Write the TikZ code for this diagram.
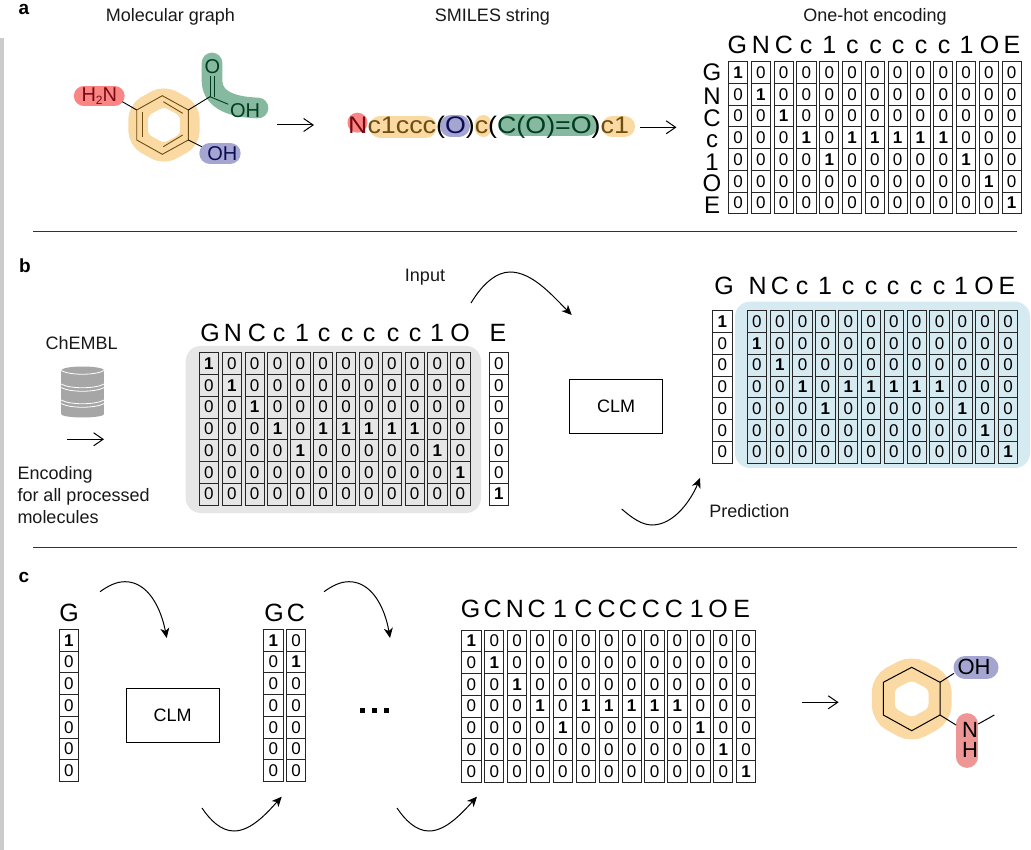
\documentclass[tikz,border=0pt]{standalone}
\usepackage{fontspec}
\setmainfont{Liberation Sans}
\usetikzlibrary{arrows.meta}
\definecolor{ringor}{HTML}{FAD9A2}
\definecolor{blobred}{HTML}{F98585}
\definecolor{blobredb}{HTML}{EE9595}
\definecolor{blobgreen}{HTML}{86B9A0}
\definecolor{blobblue}{HTML}{A5A5D2}
\definecolor{panelgray}{HTML}{E6E6E6}
\definecolor{panelblue}{HTML}{D6EAF2}
\definecolor{txtred}{HTML}{7A0A12}
\definecolor{txtgreen}{HTML}{003C20}
\definecolor{txtblue}{HTML}{0C0C55}
\definecolor{txtbrown}{HTML}{6E4D10}
\definecolor{dbgray}{HTML}{A6A6A6}
\tikzset{
  cellbox/.style={draw=black!85,line width=0.9pt,inner sep=0pt,font=\fontsize{17}{17}\selectfont},
  hdrtext/.style={anchor=base,inner sep=0pt,font=\fontsize{25}{25}\selectfont},
  rowtext/.style={anchor=base,inner sep=0pt,font=\fontsize{24}{24}\selectfont},
  lbltext/.style={inner sep=0pt,font=\fontsize{18}{18}\selectfont,text=black!90},
  moltext/.style={inner sep=0pt,font=\fontsize{20}{20}\selectfont},
  moltextb/.style={inner sep=0pt,font=\fontsize{22}{22}\selectfont},
  paneltag/.style={inner sep=0pt,font=\fontsize{19}{19}\selectfont\bfseries},
  clmbox/.style={draw=black,line width=1pt,minimum width=93.4pt,minimum height=54pt,inner sep=0pt,font=\fontsize{18}{18}\selectfont},
  blob/.style={line cap=round,line join=round},
  bond/.style={line width=0.9pt},
  straightarrow/.style={line width=1pt,-{Straight Barb[length=9.5pt,width=13pt]}},
  curvearrow/.style={line width=1pt,-{Stealth[length=10pt,width=9pt,inset=3pt]}},
  rulesep/.style={line width=0.8pt,draw=black!80}
}
\newcommand{\onehot}[7]{%
  \foreach \oneV [count=\colI from 0] in {#7}{%
    \foreach \rowI in {0,...,6}{%
      \pgfmathsetmacro\cellX{#2+0.5*#4+\colI*#6}%
      \pgfmathsetmacro\cellY{#3+(\rowI+0.5)*#5}%
      \node[cellbox,minimum width=#4pt,minimum height=#5pt] (#1-\colI-\rowI) at (\cellX,\cellY)
        {\ifnum\rowI=\oneV\relax\textbf{1}\else 0\fi};%
    }%
  }%
}
\newcommand{\heads}[3]{%
  \foreach \hX/\hL [count=\hI] in {#3}{%
    \node[hdrtext] (#1-h\hI) at (\hX,#2) {\hL};%
  }%
}
\begin{document}
\begin{tikzpicture}[x=1pt,y=-1pt]
\useasboundingbox (0,0) rectangle (1031,850);
\fill[white] (0,0) rectangle (1031,850);
\fill[black!20] (0,38) rectangle (4,850);

% ---------- panel a
\node[paneltag] (taga) at (24,9) {a};
\node[lbltext] (titlemol) at (170.5,17) {Molecular graph};
\node[lbltext] (titlesmi) at (492.5,17) {SMILES string};
\node[lbltext] (titlehot) at (875,17) {One-hot encoding};

% molecule a: highlights
\draw[ringor,line width=19.5pt,rounded corners=9pt] (163.8,95.7) -- (189.8,110) -- (189.8,140) -- (163.8,154.3) -- (138.2,140) -- (138.2,110) -- cycle;
\draw[blob,blobred,line width=20.3pt] (84,96) -- (114.5,96);
\draw[blob,blobblue,line width=21.3pt] (210,153.3) -- (230,153.3);
\draw[blob,blobgreen,line width=20.7pt] (212,63) -- (212,80) .. controls (212,98) and (228,107) .. (258,108);
% molecule a: skeleton
\coordinate (ra1) at (162.3,95.7);
\coordinate (ra2) at (188.3,110);
\coordinate (ra3) at (188.3,140);
\coordinate (ra4) at (162.3,154.3);
\coordinate (ra5) at (136.7,140);
\coordinate (ra6) at (136.7,110);
\coordinate (caC) at (210,96.7);
\draw[bond,draw=txtbrown] (ra1) -- (ra2) -- (ra3) -- (ra4) -- (ra5) -- (ra6) -- cycle;
\draw[bond,draw=txtbrown] (142.7,111.7) -- (142.7,136.7);
\draw[bond,draw=txtbrown] (163.3,101.7) -- (182.7,113.3);
\draw[bond,draw=txtbrown] (163.3,146.7) -- (182.7,135);
\node[moltext,text=txtred] (nh2) at (99.3,96) {H\raisebox{-3pt}{\fontsize{12}{12}\selectfont 2}N};
\node[moltext,text=txtgreen] (oa) at (212.3,66.7) {O};
\node[moltext,text=txtgreen] (oha) at (245,110.7) {OH};
\node[moltext,text=txtblue] (ohb) at (222.3,154) {OH};
\coordinate (b1) at (122.3,101.7);
\coordinate (b2) at (228.3,104.3);
\coordinate (b3) at (201.7,146.7);
\draw[bond] (ra6) -- (b1);
\draw[bond] (ra2) -- (caC);
\draw[bond,draw=txtgreen] (caC) -- (b2);
\draw[bond] (ra3) -- (b3);
\draw[bond,draw=txtgreen] (210,76) -- (210,97);
\draw[bond,draw=txtgreen] (214,76) -- (214,97);

\coordinate (aa1) at (277,125);
\coordinate (aa2) at (314,125);
\draw[straightarrow] (aa1) -- (aa2);

% SMILES
\fill[blobred] (357.5,122.7) circle (10);
\draw[blob,ringor,line width=22.6pt] (380.6,127) -- (425.4,127);
\draw[blob,blobblue,line width=21.7pt] (450.85,125.85) -- (459.15,125.85);
\fill[ringor] (483.3,126) ellipse (9 and 11);
\draw[blob,blobgreen,line width=22pt] (510,125) -- (587,125);
\draw[blob,ringor,line width=21.6pt] (612.5,126.5) -- (624.2,126.5);
\node[anchor=base west,inner sep=0pt,font=\fontsize{24}{24}\selectfont] (smiles) at (348,133.3)
  {\scalebox{1.117}[1]{\textcolor{txtred}{N}\textcolor{txtbrown}{c1ccc}(\textcolor{txtblue}{O})\textcolor{txtbrown}{c}(\textcolor{txtgreen}{C(O)=O})\textcolor{txtbrown}{c1}}};
\coordinate (ab1) at (640,127.3);
\coordinate (ab2) at (676.5,127.3);
\draw[straightarrow] (ab1) -- (ab2);

% one-hot a
\heads{ah}{54}{737.3/G,761/N,784/C,806/c,829.3/1,852.3/c,875.5/c,898/c,921/c,944/c,966.5/1,989.5/O,1012/E}
\foreach \rowY/\rowL [count=\rowN] in {81/G,105/N,127/C,148/c,171/1,192/O,213.5/E}{
  \node[rowtext] (ar-\rowN) at (712,\rowY) {\rowL};
}
\onehot{am}{728.4}{61.7}{19.3}{21.75}{22.8}{0,1,2,3,4,3,3,3,3,3,4,5,6}

\coordinate (r1a) at (33,231);
\coordinate (r1b) at (1017,231);
\draw[rulesep] (r1a) -- (r1b);

% ---------- panel b
\node[paneltag] (tagb) at (25,266) {b};
\node[lbltext] (chembl) at (81.7,343.3) {ChEMBL};
% database icon
\fill[dbgray] (82.65,370.5) ellipse (21.65 and 4);
\fill[dbgray] (61,370.5) rectangle (104.3,414);
\fill[dbgray] (82.65,414) ellipse (21.65 and 3.5);
\draw[white,line width=0.8pt] (61,370.5) .. controls (70,375.5) and (95,375.5) .. (104.3,370.5);
\draw[white,line width=0.8pt] (61,384) .. controls (70,389) and (95,389) .. (104.3,384);
\draw[white,line width=0.8pt] (61,387.5) .. controls (70,392.5) and (95,392.5) .. (104.3,387.5);
\draw[white,line width=0.8pt] (61,400) .. controls (70,405) and (95,405) .. (104.3,400);
\draw[white,line width=0.8pt] (61,403.5) .. controls (70,408.5) and (95,408.5) .. (104.3,403.5);
\coordinate (db1) at (66.7,439.3);
\coordinate (db2) at (104,439.3);
\draw[straightarrow] (db1) -- (db2);
\node[lbltext,anchor=base west] (enc1) at (17.3,479) {Encoding};
\node[lbltext,anchor=base west] (enc2) at (17.3,501) {for all processed};
\node[lbltext,anchor=base west] (enc3) at (17.3,523) {molecules};

\fill[panelgray,rounded corners=15pt] (185.7,346) rectangle (481,513);
\heads{bh}{341.7}{210/G,233/N,257/C,279/c,302/1,324/c,347/c,369/c,393/c,415/c,437/1,460/O,498/E}
\onehot{bm}{199.3}{352.7}{19.3}{21.75}{22.85}{0,1,2,3,4,3,3,3,3,3,4,5}
\onehot{be}{489.3}{352.7}{19.3}{21.75}{22.85}{6}

\node[lbltext] (input) at (425,276.7) {Input};
\coordinate (ci1) at (471,303);
\coordinate (ci2) at (571.7,315);
\draw[curvearrow] (ci1) .. controls (483,283) and (497,272) .. (510,272) .. controls (532,272) and (552,295) .. (ci2);

\node[clmbox] (clmb) at (616,406) {CLM};

\coordinate (cp1) at (621.7,509);
\coordinate (cp2) at (700,478);
\draw[curvearrow] (cp1) .. controls (632,518) and (642,525) .. (652,525) .. controls (675,525) and (692,498) .. (cp2);
\node[lbltext] (pred) at (749.3,510.7) {Prediction};

\fill[panelblue,rounded corners=15pt] (735,301.7) rectangle (1030,468);
\heads{ch}{295}{724/G,757.7/N,780/C,802/c,825/1,848/c,871/c,893/c,916/c,939/c,961/1,984/O,1007/E}
\onehot{cg}{712.7}{310.7}{19.3}{21.75}{22.85}{0}
\onehot{cm}{747.3}{310.7}{19.3}{21.75}{22.82}{1,2,3,4,3,3,3,3,3,4,5,6}

\coordinate (r2a) at (33,547);
\coordinate (r2b) at (1017,547);
\draw[rulesep] (r2a) -- (r2b);

% ---------- panel c
\node[paneltag] (tagc) at (24,577) {c};
\heads{dh}{621.7}{69/G,274/G,296/C}
\onehot{dg}{59.3}{629.3}{19.3}{21.75}{22.7}{0}
\onehot{dc}{263.7}{629.3}{19.3}{21.75}{22.7}{0,1}
\node[clmbox] (clmc) at (172.7,715.7) {CLM};

\coordinate (c1a) at (100,591.7);
\coordinate (c1b) at (166.7,638);
\draw[curvearrow] (c1a) .. controls (108,586) and (116,581.7) .. (125,581.7) .. controls (148,581.7) and (161,608) .. (c1b);
\coordinate (c2a) at (202,808);
\coordinate (c2b) at (281.7,796.7);
\draw[curvearrow] (c2a) .. controls (210,820) and (221,831) .. (234,831) .. controls (251,831) and (267,813) .. (c2b);
\coordinate (c3a) at (324,591.7);
\coordinate (c3b) at (390,638);
\draw[curvearrow] (c3a) .. controls (332,586) and (340,581.7) .. (349,581.7) .. controls (372,581.7) and (385,608) .. (c3b);
\coordinate (c4a) at (397,808);
\coordinate (c4b) at (477,796.7);
\draw[curvearrow] (c4a) .. controls (405,820) and (416,831) .. (429,831) .. controls (446,831) and (462,813) .. (c4b);

\foreach \dotX [count=\dotN] in {362,374.4,386}{
  \node[fill=black,minimum size=5pt,inner sep=0pt] (dot\dotN) at (\dotX,710) {};
}

\heads{eh}{617.7}{470.7/G,492.7/C,515/N,536.7/C,560/1,583.3/C,606.7/C,628/C,651/C,674/C,696.7/1,718/O,741.7/E}
\onehot{em}{461.7}{630}{19.3}{21.75}{22.9}{0,1,2,3,4,3,3,3,3,3,4,5,6}

\coordinate (ec1) at (802,702.3);
\coordinate (ec2) at (838.6,702.3);
\draw[straightarrow] (ec1) -- (ec2);

% molecule c
\draw[ringor,line width=23pt,rounded corners=10pt] (911.7,667.3) -- (940,682.3) -- (940,715) -- (911.7,730.7) -- (883.3,715) -- (883.3,682.3) -- cycle;
\draw[blob,blobblue,line width=23pt] (965,667.5) -- (987,667.5);
\draw[blob,blobredb,line width=21.7pt] (967,724) -- (967,757);
\coordinate (rc1) at (911.7,667.3);
\coordinate (rc2) at (940,682.3);
\coordinate (rc3) at (940,715);
\coordinate (rc4) at (911.7,730.7);
\coordinate (rc5) at (883.3,715);
\coordinate (rc6) at (883.3,682.3);
\draw[bond,line width=1pt] (rc1) -- (rc2) -- (rc3) -- (rc4) -- (rc5) -- (rc6) -- cycle;
\node[moltextb] (ohc) at (974,667.3) {OH};
\node[moltextb] (nc) at (970,730) {N};
\node[moltextb] (hc) at (970,750) {H};
\coordinate (bc1) at (954,673.3);
\coordinate (bc2) at (956,725);
\coordinate (bc3) at (978.3,724);
\coordinate (bc4) at (994.3,715);
\draw[bond,line width=1pt] (rc2) -- (bc1);
\draw[bond,line width=1pt] (rc3) -- (bc2);
\draw[bond,line width=1pt] (bc3) -- (bc4);
\end{tikzpicture}
\end{document}
